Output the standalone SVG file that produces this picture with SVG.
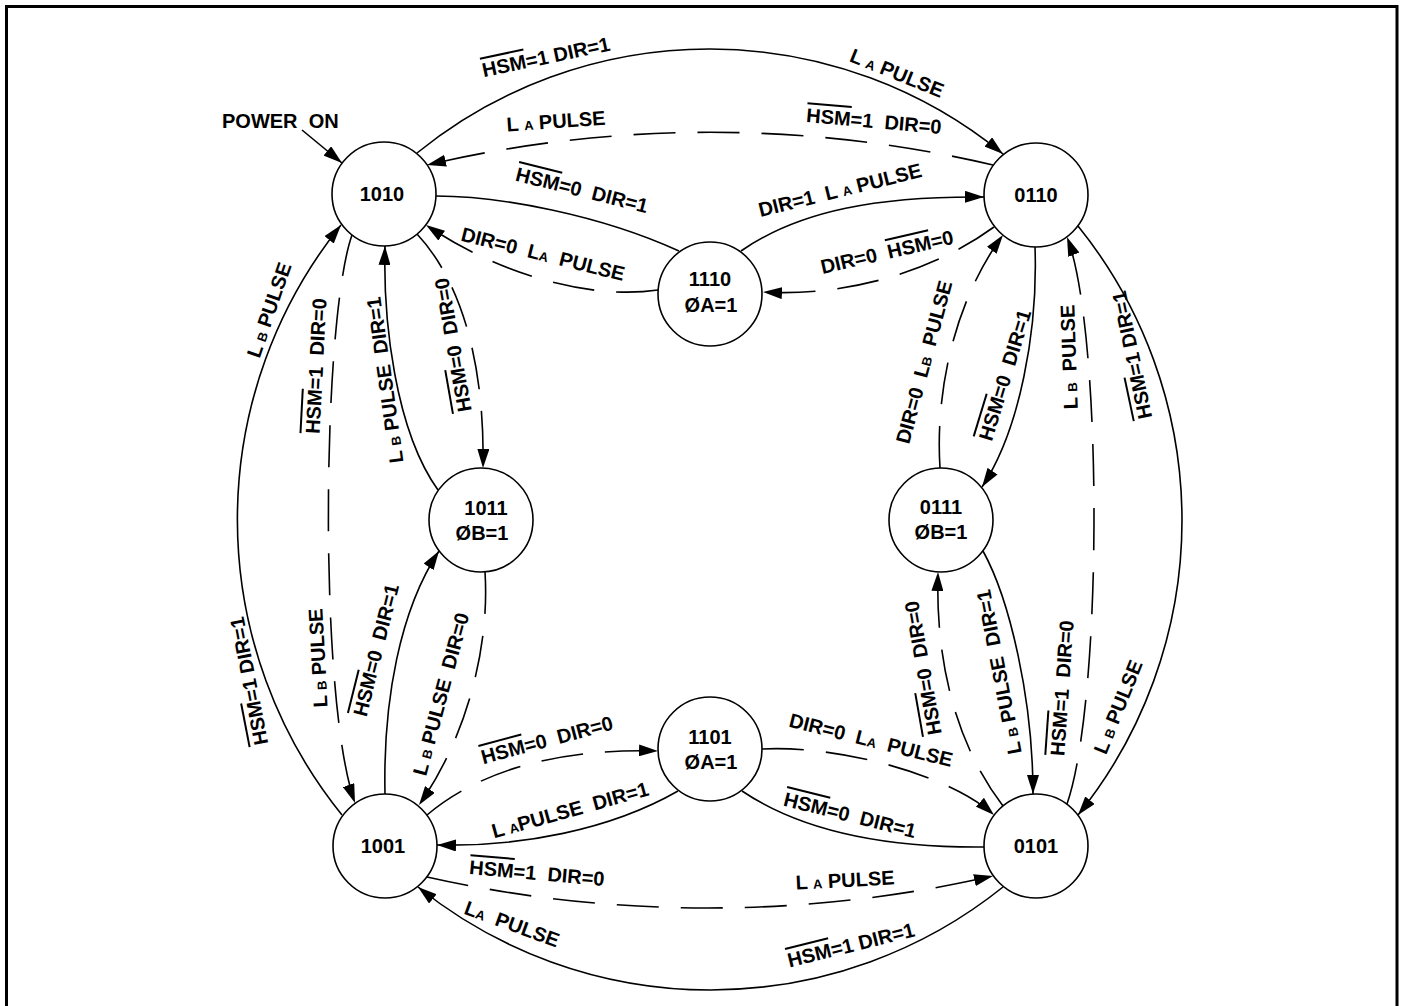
<svg xmlns="http://www.w3.org/2000/svg" width="1403" height="1006" viewBox="0 0 1403 1006">
<style>
.t{font-family:"Liberation Sans",Arial,sans-serif;font-weight:bold;font-size:20px;text-anchor:middle;fill:#000;white-space:pre}
.n{font-family:"Liberation Sans",Arial,sans-serif;font-weight:bold;font-size:20px;text-anchor:middle;fill:#000}
.s{font-size:13px}
.node{fill:#fff;stroke:#000;stroke-width:1.6}
.c{fill:none;stroke:#000;stroke-width:1.6}
.d{fill:none;stroke:#000;stroke-width:1.6;stroke-dasharray:42 22}
.a{marker-end:url(#ah)}
</style>
<defs>
<marker id="ah" markerUnits="userSpaceOnUse" viewBox="0 0 20 12" markerWidth="20" markerHeight="12" refX="19" refY="6" orient="auto"><path d="M0,0 L19,6 L0,12 z" fill="#000"/></marker>
</defs>
<rect x="0" y="0" width="1403" height="1006" fill="#fff"/>
<rect x="6.5" y="6.5" width="1390.5" height="1020" fill="none" stroke="#000" stroke-width="3"/>
<g id="connectors">
<path class="c a" d="M302,130 L342,163"/>
<path class="c a" d="M417,153 A463,463 0 0 1 1003,154"/>
<path class="d a" d="M993,165 A1240,1240 0 0 0 427,165"/>
<path class="c" d="M436,196 C500,196 600,215 679,251"/>
<path class="d a" d="M658,290 C590,300 500,275 426,225"/>
<path class="c a" d="M741,251 C800,210 880,196 984,197"/>
<path class="d a" d="M994,227 C935,270 850,297 763,292"/>
<path class="c a" d="M342,815 A470,470 0 0 1 341,225"/>
<path class="d a" d="M352,235 C322,320 318,700 355,803"/>
<path class="c a" d="M438,490 C395,430 383,320 385,246"/>
<path class="d a" d="M417,234 C460,280 485,360 483,468"/>
<path class="c a" d="M385,794 C383,700 400,610 439,551"/>
<path class="d a" d="M485,572 C490,650 465,740 419,805"/>
<path class="c a" d="M1078,226 A469,469 0 0 1 1078,815"/>
<path class="d a" d="M1067,804 C1103,700 1103,330 1067,237"/>
<path class="c a" d="M1035,247 C1038,330 1020,430 982,487"/>
<path class="d a" d="M940,468 C935,390 955,300 1003,235"/>
<path class="c a" d="M983,551 C1010,600 1033,700 1033,794"/>
<path class="d a" d="M1003,806 C960,750 935,670 938,572"/>
<path class="c a" d="M1003,887 A467,467 0 0 1 418,887"/>
<path class="d a" d="M427,877 A1287,1287 0 0 0 993,876"/>
<path class="d a" d="M427,815 C480,770 560,748 658,751"/>
<path class="c a" d="M678,791 C610,830 520,847 437,845"/>
<path class="d a" d="M762,749 C840,745 950,775 994,815"/>
<path class="c" d="M742,791 C800,830 880,848 984,847"/>
</g>
<g id="labels">
<text class="t" x="222" y="128" style="text-anchor:start">POWER  ON</text>
<text class="t" transform="translate(546,57) rotate(-12)" y="7"><tspan text-decoration="overline">HSM</tspan>=1 DIR=1</text>
<text class="t" transform="translate(897,73) rotate(22)" y="7">L <tspan class="s">A</tspan> PULSE</text>
<text class="t" transform="translate(556,121) rotate(-4)" y="7">L <tspan class="s">A</tspan> PULSE</text>
<text class="t" transform="translate(874,121) rotate(5)" y="7"><tspan text-decoration="overline">HSM</tspan>=1  DIR=0</text>
<text class="t" transform="translate(582,190) rotate(14)" y="7"><tspan text-decoration="overline">HSM</tspan>=0  DIR=1</text>
<text class="t" transform="translate(543,254) rotate(14)" y="7">DIR=0  L<tspan class="s">A</tspan>  PULSE</text>
<text class="t" transform="translate(840,190) rotate(-14)" y="7">DIR=1  L <tspan class="s">A</tspan> PULSE</text>
<text class="t" transform="translate(887,252) rotate(-13)" y="7">DIR=0  <tspan text-decoration="overline">HSM</tspan>=0</text>
<text class="t" transform="translate(269,310) rotate(-71)" y="7">L <tspan class="s">B</tspan> PULSE</text>
<text class="t" transform="translate(316,366) rotate(-87)" y="7"><tspan text-decoration="overline">HSM</tspan>=1  DIR=0</text>
<text class="t" transform="translate(385,380) rotate(-98)" y="7">L <tspan class="s">B</tspan> PULSE  DIR=1</text>
<text class="t" transform="translate(453,345) rotate(-100)" y="7"><tspan text-decoration="overline">HSM</tspan>=0  DIR=0</text>
<text class="t" transform="translate(249,681) rotate(-101)" y="7"><tspan text-decoration="overline">HSM</tspan>=1 DIR=1</text>
<text class="t" transform="translate(318,658) rotate(-93)" y="7">L <tspan class="s">B</tspan> PULSE</text>
<text class="t" transform="translate(376,650) rotate(-76)" y="7"><tspan text-decoration="overline">HSM</tspan>=0  DIR=1</text>
<text class="t" transform="translate(441,694) rotate(-75)" y="7">L <tspan class="s">B</tspan> PULSE  DIR=0</text>
<text class="t" transform="translate(547,740) rotate(-15)" y="7"><tspan text-decoration="overline">HSM</tspan>=0  DIR=0</text>
<text class="t" transform="translate(570,810) rotate(-15.5)" y="7">L <tspan class="s">A</tspan>PULSE  DIR=1</text>
<text class="t" transform="translate(537,873) rotate(5)" y="7"><tspan text-decoration="overline">HSM</tspan>=1  DIR=0</text>
<text class="t" transform="translate(512,924) rotate(20)" y="7">L<tspan class="s">A</tspan>  PULSE</text>
<text class="t" transform="translate(923,668) rotate(-100)" y="7"><tspan text-decoration="overline">HSM</tspan>=0  DIR=0</text>
<text class="t" transform="translate(999,672) rotate(-101)" y="7">L <tspan class="s">B</tspan> PULSE  DIR=1</text>
<text class="t" transform="translate(1062,688) rotate(-86)" y="7"><tspan text-decoration="overline">HSM</tspan>=1  DIR=0</text>
<text class="t" transform="translate(1118,707) rotate(-68)" y="7">L <tspan class="s">B</tspan> PULSE</text>
<text class="t" transform="translate(871,740) rotate(14)" y="7">DIR=0  L<tspan class="s">A</tspan>  PULSE</text>
<text class="t" transform="translate(850,815) rotate(14)" y="7"><tspan text-decoration="overline">HSM</tspan>=0  DIR=1</text>
<text class="t" transform="translate(845,880) rotate(-3)" y="7">L <tspan class="s">A</tspan> PULSE</text>
<text class="t" transform="translate(851,945) rotate(-14)" y="7"><tspan text-decoration="overline">HSM</tspan>=1 DIR=1</text>
<text class="t" transform="translate(924,362) rotate(-75)" y="7">DIR=0  L<tspan class="s">B</tspan>  PULSE</text>
<text class="t" transform="translate(1005,375) rotate(-73)" y="7"><tspan text-decoration="overline">HSM</tspan>=0  DIR=1</text>
<text class="t" transform="translate(1069,357) rotate(-92)" y="7">L <tspan class="s">B</tspan>  PULSE</text>
<text class="t" transform="translate(1132,355) rotate(-102)" y="7"><tspan text-decoration="overline">HSM</tspan>=1 DIR=1</text>
</g>
<g id="n1010"><circle class="node" cx="384" cy="194" r="52"/><text class="n" x="382" y="201">1010</text></g>
<g id="n0110"><circle class="node" cx="1036" cy="195" r="52"/><text class="n" x="1036" y="202">0110</text></g>
<g id="n1110"><circle class="node" cx="710" cy="294" r="52"/><text class="n" x="710" y="286">1110</text><text class="n" x="711" y="312">ØA=1</text></g>
<g id="n1011"><circle class="node" cx="481" cy="520" r="52"/><text class="n" x="486" y="515">1011</text><text class="n" x="482" y="540">ØB=1</text></g>
<g id="n0111"><circle class="node" cx="941" cy="520" r="52"/><text class="n" x="941" y="514">0111</text><text class="n" x="941" y="539">ØB=1</text></g>
<g id="n1101"><circle class="node" cx="710" cy="749" r="52"/><text class="n" x="710" y="744">1101</text><text class="n" x="711" y="769">ØA=1</text></g>
<g id="n1001"><circle class="node" cx="385" cy="846" r="52"/><text class="n" x="383" y="853">1001</text></g>
<g id="n0101"><circle class="node" cx="1036" cy="846" r="52"/><text class="n" x="1036" y="853">0101</text></g>
</svg>
